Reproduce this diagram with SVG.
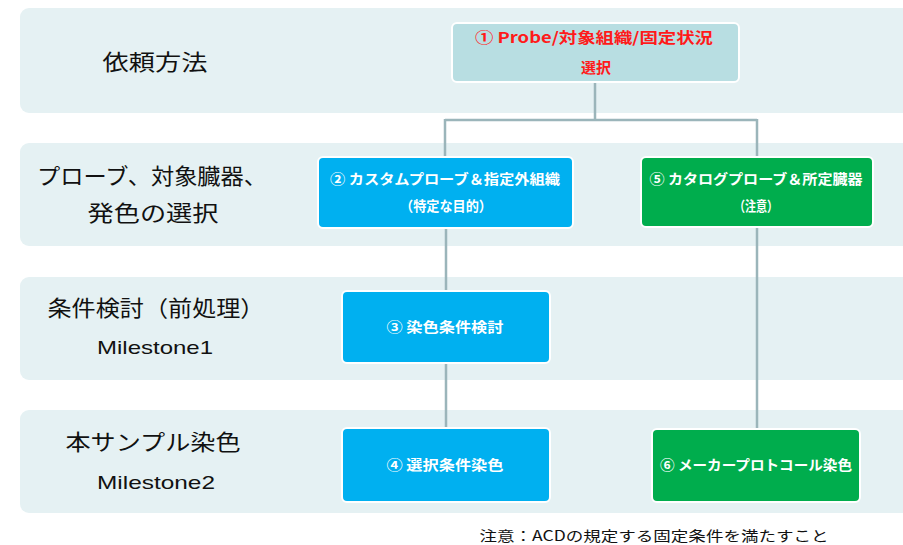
<svg xmlns="http://www.w3.org/2000/svg" width="903" height="545" viewBox="0 0 903 545">
<style>
.band{fill:#e5f1f3}
.lbl{font-family:"Noto Sans CJK JP","Noto Sans",sans-serif;font-size:22px;fill:#111;text-anchor:middle}
.ms{font-family:"Liberation Sans","Noto Sans CJK JP",sans-serif;font-size:19px;fill:#111;text-anchor:middle}
.node{stroke:#ffffff;stroke-width:2}
.blue{fill:#00b0f0}
.green{fill:#00ad4d}
.nt{font-family:"Noto Sans CJK JP","Noto Sans",sans-serif;font-size:14px;font-weight:bold;fill:#ffffff;text-anchor:middle}
.red{fill:#ff1a1a;font-size:15px}
.conn{stroke:#9bb5ba;stroke-width:2.5;fill:none}
.note{font-family:"Noto Sans CJK JP","Noto Sans",sans-serif;font-size:14px;fill:#111;text-anchor:middle}
</style>
<g id="bands">
<rect class="band" x="20" y="8" width="900" height="105" rx="9"/>
<rect class="band" x="20" y="143" width="900" height="103" rx="9"/>
<rect class="band" x="20" y="277" width="900" height="103" rx="9"/>
<rect class="band" x="20" y="410" width="900" height="103" rx="9"/>
</g>
<g id="labels">
<text class="lbl" x="155" y="70" font-size="24" textLength="105" lengthAdjust="spacingAndGlyphs">依頼方法</text>
<text class="lbl" x="152" y="184" textLength="230" lengthAdjust="spacingAndGlyphs">プローブ、対象臓器、</text>
<text class="lbl" x="153" y="221" textLength="131" lengthAdjust="spacingAndGlyphs">発色の選択</text>
<text class="lbl" x="156" y="316" textLength="217" lengthAdjust="spacingAndGlyphs">条件検討（前処理）</text>
<text class="ms" x="155" y="354" textLength="116" lengthAdjust="spacingAndGlyphs">Milestone1</text>
<text class="lbl" x="153" y="450" textLength="175" lengthAdjust="spacingAndGlyphs">本サンプル染色</text>
<text class="ms" x="156" y="489" textLength="118" lengthAdjust="spacingAndGlyphs">Milestone2</text>
</g>
<g id="connectors">
<path class="conn" d="M595,82 V120 M445,120 H757 M445,119 V157 M757,119 V157"/>
<path class="conn" d="M446,228 V291 M446,363 V428"/>
<path class="conn" d="M757,228 V429"/>
</g>
<g id="n1">
<rect class="node" x="452" y="23" width="287" height="59" rx="5" fill="#b8dee2"/>
<text class="nt red" x="594" y="43" textLength="238" lengthAdjust="spacingAndGlyphs">① Probe/対象組織/固定状況</text>
<text class="nt red" x="596" y="73" font-size="17">選択</text>
</g>
<g id="n2">
<rect class="node blue" x="318" y="157" width="255" height="71" rx="5"/>
<text class="nt" x="445" y="184" textLength="230" lengthAdjust="spacingAndGlyphs">② カスタムプローブ＆指定外組織</text>
<text class="nt" x="446" y="211" textLength="92" lengthAdjust="spacingAndGlyphs">（特定な目的）</text>
</g>
<g id="n5">
<rect class="node green" x="641" y="157" width="232" height="70" rx="5"/>
<text class="nt" x="756" y="184" textLength="213" lengthAdjust="spacingAndGlyphs">⑤ カタログプローブ＆所定臓器</text>
<text class="nt" x="756" y="211" textLength="44" lengthAdjust="spacingAndGlyphs">（注意）</text>
</g>
<g id="n3">
<rect class="node blue" x="342" y="291" width="208" height="72" rx="5"/>
<text class="nt" x="445" y="332" textLength="117" lengthAdjust="spacingAndGlyphs">③ 染色条件検討</text>
</g>
<g id="n4">
<rect class="node blue" x="342" y="428" width="208" height="74" rx="5"/>
<text class="nt" x="445" y="470" textLength="117" lengthAdjust="spacingAndGlyphs">④ 選択条件染色</text>
</g>
<g id="n6">
<rect class="node green" x="652" y="429" width="208" height="73" rx="5"/>
<text class="nt" x="756" y="470" textLength="192" lengthAdjust="spacingAndGlyphs">⑥ メーカープロトコール染色</text>
</g>
<text class="note" x="654" y="541" textLength="349" lengthAdjust="spacingAndGlyphs">注意：ACDの規定する固定条件を満たすこと</text>
</svg>
